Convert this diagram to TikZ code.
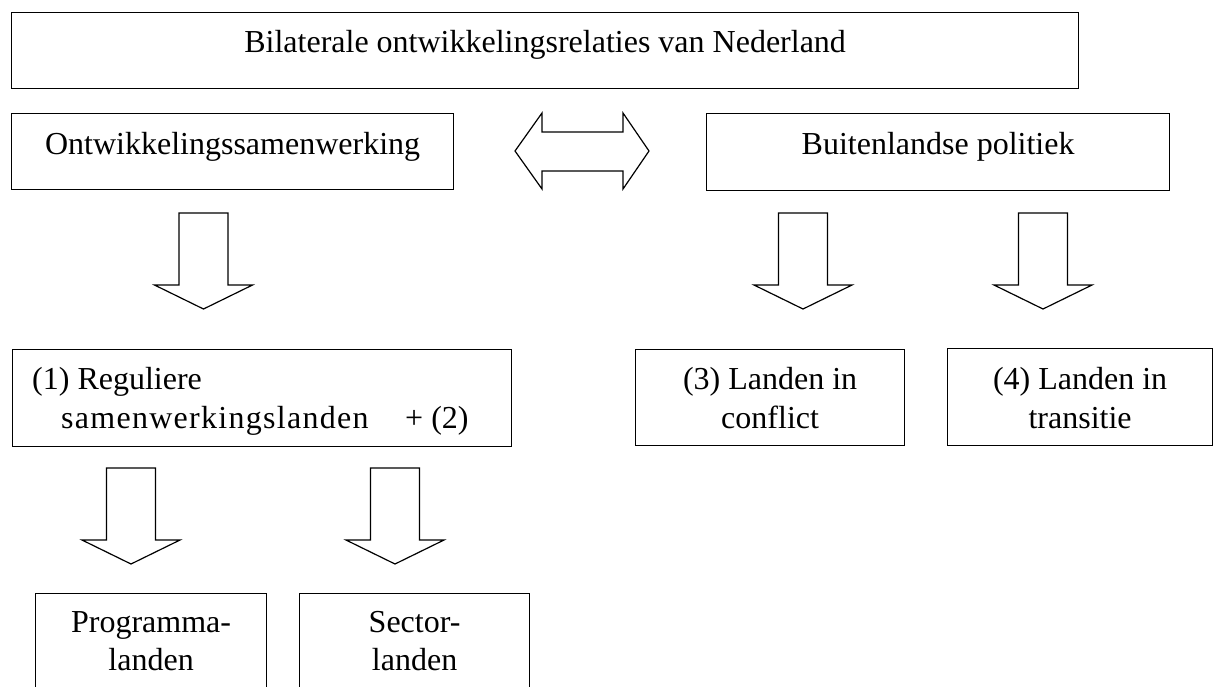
\documentclass[tikz,border=0pt]{standalone}
\usepackage{fontspec}
\setmainfont{Liberation Serif}
\usetikzlibrary{calc}
\begin{document}
\begin{tikzpicture}[x=1pt,y=-1pt,
  box/.style={draw, line width=1.2pt, rectangle, inner sep=0pt, anchor=north west},
  txt/.style={anchor=base, inner sep=0pt, font=\fontsize{32}{37}\selectfont},
  txtw/.style={txt, anchor=base west},
  blockline/.style={draw, line width=1.2pt, line join=miter, fill=white},
  downarrow/.pic={\path[blockline] (-24.5,0) -- (24.5,0) -- (24.5,72) -- (49,72)
      -- (0,96) -- (-49,72) -- (-24.5,72) -- cycle;}
]
\useasboundingbox (0,0) rectangle (1213,686);
\clip (0,0) rectangle (1213,686);

% boxes
\node[box, minimum width=1067pt, minimum height=76pt] (top) at (11,12) {};
\node[box, minimum width=442pt, minimum height=76pt] (ows) at (11,113) {};
\node[box, minimum width=463pt, minimum height=77pt] (bp) at (706,113) {};
\node[box, minimum width=499pt, minimum height=97pt] (reg) at (12,349) {};
\node[box, minimum width=269pt, minimum height=96pt] (conf) at (635,349) {};
\node[box, minimum width=265pt, minimum height=97pt] (trans) at (947,348) {};
\node[box, minimum width=231pt, minimum height=110pt] (prog) at (35,593) {};
\node[box, minimum width=230pt, minimum height=110pt] (sect) at (299,593) {};

% texts
\node[txt] (ttop) at ($(top.north)+(0,40)$) {Bilaterale ontwikkelingsrelaties van Nederland};
\node[txt] (tows) at ($(ows.north)+(0,41)$) {Ontwikkelingssamenwerking};
\node[txt] (tbp) at ($(bp.north)+(0,41)$) {Buitenlandse politiek};
\node[txtw] (treg1) at (32,389) {(1) Reguliere};
\node[txtw] (treg2) at (61,428) {\addfontfeature{LetterSpace=4}samenwerkingslanden};
\node[txtw] (treg3) at (405,428) {+ (2)};
\node[txt] (tconf1) at ($(conf.north)+(0,40)$) {(3) Landen in};
\node[txt] (tconf2) at ($(conf.north)+(0,79)$) {conflict};
\node[txt] (ttrans1) at ($(trans.north)+(0,41)$) {(4) Landen in};
\node[txt] (ttrans2) at ($(trans.north)+(0,80)$) {transitie};
\node[txt] (tprog1) at ($(prog.north)+(0,39)$) {Programma-};
\node[txt] (tprog2) at ($(prog.north)+(0,77)$) {landen};
\node[txt] (tsect1) at ($(sect.north)+(0,39)$) {Sector-};
\node[txt] (tsect2) at ($(sect.north)+(0,77)$) {landen};

% two-headed block arrow between the two policy boxes
\path[blockline] (515,151) -- (542,113) -- (542,132) -- (623,132) -- (623,113)
  -- (649,151) -- (623,189) -- (623,171) -- (542,171) -- (542,189) -- cycle;

% downward block arrows
\pic at (203.5,213) {downarrow};
\pic at (803,213) {downarrow};
\pic at (1043,213) {downarrow};
\pic at (131,468) {downarrow};
\pic at (395,468) {downarrow};
\end{tikzpicture}
\end{document}
